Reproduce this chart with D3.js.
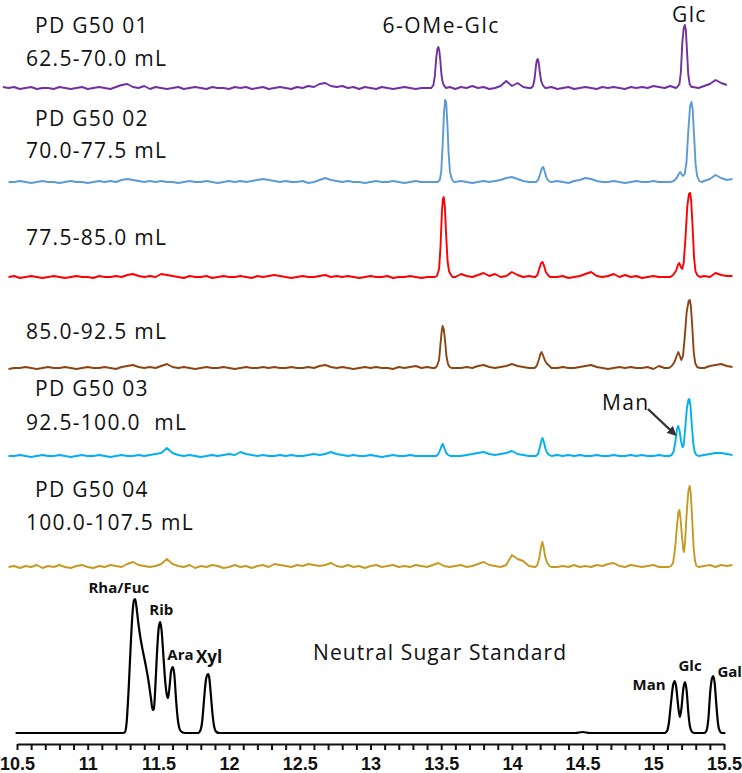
<!DOCTYPE html>
<html><head><meta charset="utf-8">
<script src="https://cdn.jsdelivr.net/npm/d3@7"></script>
<style>
html,body{margin:0;padding:0;background:#fff;}
svg{display:block;}
.lab{font-family:"Open Sans",sans-serif;font-size:21px;letter-spacing:1.3px;fill:#111;white-space:pre;}
.std{font-family:"Open Sans",sans-serif;font-weight:700;font-size:15px;fill:#111;}
.tick text{font-family:"Liberation Sans Narrow","Liberation Sans",sans-serif;font-weight:700;font-size:18px;fill:#111;}
</style></head>
<body>
<svg id="c" width="742" height="773"></svg>
<script>
// ---------- DATA ----------
// x axis tick labels (retention time, min)
const majorTicks = [10.5, 11, 11.5, 12, 12.5, 13, 13.5, 14, 14.5, 15, 15.5];
const tickLabels = ["10.5","11","11.5","12","12.5","13","13.5","14","14.5","15","15.5"];

// trace names / fraction labels
const traceNames = ["PD G50 01","PD G50 02","","","PD G50 03","PD G50 04","Neutral Sugar Standard"];
const fractionLabels = ["62.5-70.0 mL","70.0-77.5 mL","77.5-85.0 mL","85.0-92.5 mL","92.5-100.0  mL","100.0-107.5 mL",""];
const traceColors = ["#7030A0","#5B9BD5","#FF0000","#8B4513","#00B0F0","#C49A22","#000000"];
const traceOffsets = [656, 562, 467, 376, 288, 177, 11];
const noiseStart = [10.40, 10.44, 10.44, 10.44, 10.44, 10.44];
const noiseStep = 0.04;

// baseline noise (sampled every 0.04 min)
const noise01 = [1,0,1,-1,0,1,-1,0,0,-1, 1,0,-1,0,1,-1,0,1,0,-1, 1,3,4,1,0,2,-1,1,0,-1, 0,1,-1,0,1,0,-1,1,0,0,
  -1,1,0,1,-1,0,1,-1,0,1, 0,-1,1,0,2,1,4,5,2,1, 2,0,1,-1,1,0,-1,1,0,-1, 0,1,0,-1,0,0,0,0,0,1,
  -1,1,0,2,0,1,-1,0,2,7, 2,5,1,0,0,0,0,1,-1,0, 1,-1,0,1,0,-1,1,0,1,0, -1,1,0,1,0,2,1,0,2,0, 0,0,1,0,2,4,8,5,3];
const noise02 = [0,0,1,0,-1,0,1,0,0,-1, 0,1,0,0,-1,0,1,0,1,0, 2,3,2,1,0,1,0,1,0,0, -1,0,1,0,0,1,0,-1,0,1,
  0,1,0,1,2,3,2,1,0,1, 0,0,1,-1,0,2,4,2,1,0, 1,0,0,-1,0,1,0,0,1,0, -1,0,1,0,0,0,0,0,0,0,
  1,0,-1,0,1,0,1,2,4,5, 3,1,0,0,0,0,0,1,0,-1, 1,2,4,3,1,0,0,1,0,-1, 0,1,0,0,1,0,0,0,0,0, 0,0,0,1,3,7,4,2,3];
const noise03 = [0,1,-1,0,1,0,-1,0,1,0, -1,0,1,0,0,-1,1,0,0,1, 0,2,3,1,0,1,0,3,2,1, 0,-1,1,0,0,1,-1,0,1,0,
  0,1,0,-1,1,0,1,2,1,0, -1,0,1,0,0,1,2,0,1,0, 1,0,-1,0,1,0,0,1,-1,0, 0,1,0,-1,0,0,0,0,0,0,
  3,1,0,2,4,1,3,0,1,5, 2,0,1,0,0,0,0,0,1,-1, 0,1,3,5,1,0,1,3,0,2, 0,1,-1,0,1,0,0,0,0,0, 0,0,0,1,0,4,2,1,1];
const noise04 = [-1,0,0,1,0,-1,0,1,0,0, 1,0,-1,0,1,0,0,1,0,-1, 1,2,3,1,0,1,0,2,4,1, 0,1,0,-1,0,1,0,0,1,0,
  -1,0,1,0,0,1,0,1,0,0, 1,0,0,1,0,2,3,1,0,1, 0,-1,0,1,0,1,0,0,-1,1, 0,1,2,0,1,0,0,0,0,0,
  0,1,0,2,3,1,0,1,2,4, 2,1,0,0,0,0,0,0,1,0, 0,1,2,3,1,0,-1,0,1,0, 1,0,0,1,-1,2,0,0,0,0, 0,0,0,0,2,3,4,2,1];
const noise05 = [0,0,1,0,-1,0,1,0,0,1, 0,-1,0,1,0,0,1,0,-1,0, 1,0,0,1,0,1,2,3,8,3, 1,0,1,0,-1,0,1,0,1,2,
  1,4,2,1,0,1,0,0,1,0, 1,0,0,1,2,1,2,4,2,1, 0,1,0,0,1,0,-1,0,1,0, 0,1,0,0,0,0,0,0,0,0,
  0,1,2,3,4,2,1,2,3,5, 2,1,0,0,0,0,0,1,0,1, 0,1,0,0,1,0,0,1,0,0, 1,0,1,0,0,1,0,0,0,0, 0,0,0,1,2,3,3,2,1];
const noise06 = [0,1,-1,1,0,2,-1,1,0,2, 0,-1,1,2,0,-1,1,0,2,1, 0,3,5,2,1,0,1,3,8,3, 1,0,2,-1,1,0,2,1,-1,0,
  2,0,1,-1,1,2,0,3,2,1, 0,2,1,3,2,1,2,4,1,0, 2,0,1,-1,1,2,0,1,2,0, 1,0,2,1,0,2,4,1,0,1,
  2,0,1,3,5,2,1,0,2,12, 8,6,1,0,0,0,0,0,1,0, 2,0,1,0,2,1,3,4,1,0, 2,1,0,1,2,0,0,0,0,0, 0,0,0,1,2,0,2,1,2];

// peaks: [time, height above baseline]
const peaks01 = [
  [[13.43,0],[13.445,3],[13.455,12],[13.465,30],[13.473,39],[13.48,41],[13.487,37],[13.494,27],[13.502,13],[13.512,5],[13.522,2],[13.535,0]],
  [[14.135,0],[14.15,2],[14.16,9],[14.17,22],[14.177,28],[14.183,29],[14.19,25],[14.198,15],[14.207,7],[14.218,3],[14.235,0]],
  [[15.17,1],[15.185,4],[15.195,16],[15.205,45],[15.215,60],[15.223,63],[15.23,58],[15.238,38],[15.247,14],[15.257,4],[15.27,1]]
];
const peaks02 = [
  [[13.475,0],[13.49,2],[13.5,10],[13.51,36],[13.52,70],[13.528,82],[13.535,80],[13.543,60],[13.552,30],[13.562,10],[13.575,3],[13.59,0]],
  [[14.17,0],[14.185,2],[14.2,8],[14.212,14],[14.222,15],[14.233,10],[14.245,4],[14.26,1],[14.275,0]],
  [[15.12,0],[15.145,1],[15.165,4],[15.18,8],[15.19,10],[15.2,8],[15.21,6],[15.222,8],[15.235,20],[15.248,52],[15.26,76],[15.27,80],[15.279,72],[15.289,45],[15.299,18],[15.31,6],[15.325,1],[15.34,0]]
];
const peaks03 = [
  [[13.455,0],[13.47,1],[13.485,8],[13.495,30],[13.505,65],[13.512,78],[13.518,80],[13.526,70],[13.535,42],[13.545,16],[13.555,6],[13.565,3],[13.58,0]],
  [[14.165,0],[14.18,2],[14.195,9],[14.207,14],[14.217,15],[14.228,11],[14.24,5],[14.255,2],[14.27,0]],
  [[15.12,0],[15.14,2],[15.16,6],[15.174,12],[15.184,14],[15.194,10],[15.204,8],[15.215,14],[15.228,40],[15.24,70],[15.252,83],[15.26,84],[15.268,76],[15.278,50],[15.288,20],[15.298,6],[15.31,2],[15.33,0]]
];
const peaks04 = [
  [[13.455,0],[13.47,2],[13.485,8],[13.495,24],[13.503,36],[13.51,42],[13.518,39],[13.527,28],[13.537,12],[13.548,4],[13.56,1],[13.575,0]],
  [[14.16,0],[14.175,2],[14.19,8],[14.202,14],[14.21,16],[14.222,12],[14.235,7],[14.25,4],[14.265,2],[14.28,0]],
  [[15.11,0],[15.13,2],[15.15,6],[15.165,12],[15.177,16],[15.188,12],[15.198,8],[15.21,12],[15.223,32],[15.236,56],[15.25,67],[15.258,68],[15.266,62],[15.276,40],[15.286,16],[15.296,5],[15.31,1],[15.33,0]]
];
const peaks05 = [
  [[13.465,0],[13.48,2],[13.495,7],[13.505,11],[13.512,12],[13.522,8],[13.535,3],[13.55,1],[13.565,0]],
  [[14.17,0],[14.185,2],[14.198,9],[14.21,16],[14.217,18],[14.226,14],[14.238,7],[14.25,3],[14.265,1],[14.28,0]],
  [[15.11,0],[15.13,1],[15.145,5],[15.158,16],[15.168,27],[15.176,30],[15.185,26],[15.196,15],[15.206,9],[15.214,10],[15.225,26],[15.237,47],[15.248,56],[15.255,57],[15.263,50],[15.273,30],[15.283,12],[15.293,4],[15.305,1],[15.32,0]]
];
const peaks06 = [
  [[14.165,0],[14.18,2],[14.195,10],[14.207,21],[14.215,25],[14.224,20],[14.236,10],[14.25,4],[14.265,1],[14.28,0]],
  [[15.11,0],[15.125,1],[15.14,4],[15.155,20],[15.168,42],[15.178,55],[15.185,57],[15.193,48],[15.203,30],[15.212,17],[15.218,15],[15.226,28],[15.237,56],[15.248,76],[15.257,81],[15.265,74],[15.275,48],[15.285,20],[15.295,6],[15.305,1],[15.32,0]]
];
// neutral sugar standard (smooth trace)
const standard = [[10.49,0],[11.25,0],[11.264,1],[11.275,10],[11.29,45],[11.305,90],[11.318,122],[11.328,133],[11.336,134],
  [11.345,126],[11.358,110],[11.372,96],[11.39,82],[11.41,68],[11.43,52],[11.447,35],[11.46,23],[11.468,24],[11.478,45],
  [11.49,80],[11.503,106],[11.513,111],[11.523,102],[11.535,78],[11.548,52],[11.56,38],[11.568,35],[11.578,45],[11.59,62],
  [11.602,66],[11.613,58],[11.625,33],[11.637,14],[11.65,4],[11.665,1],[11.69,0],[11.78,0],[11.795,2],[11.81,12],[11.822,32],
  [11.835,52],[11.845,58],[11.852,59],[11.86,55],[11.87,40],[11.882,20],[11.895,6],[11.91,1],[11.93,0],[14.45,0],[14.5,1],
  [14.55,0],[15.08,0],[15.097,2],[15.11,10],[15.125,30],[15.14,48],[15.152,52],[15.162,46],[15.175,28],[15.188,16],[15.2,26],
  [15.212,44],[15.224,51],[15.236,42],[15.248,20],[15.26,6],[15.275,1],[15.29,0],[15.36,0],[15.375,2],[15.39,15],[15.402,40],
  [15.414,54],[15.424,57],[15.434,50],[15.446,28],[15.458,9],[15.47,2],[15.485,0],[15.51,0]];

// standard peak labels: [label, time, height-above-baseline of label baseline, font size]
const stdLabels = [["Rha/Fuc",11.22,140,15],["Rib",11.52,118,15],["Ara",11.656,73,15],["Xyl",11.858,70,17],
  ["Man",14.97,43,15],["Glc",15.26,62,15],["Gal",15.54,56,15]];

// ---------- DRAW ----------
const W = 742, H = 773;
const svg = d3.select("#c");
svg.append("rect").attr("width",W).attr("height",H).attr("fill","#fff");

const x = d3.scaleLinear().domain([10.5, 15.5]).range([17, 724]);
const y = d3.scaleLinear().domain([0, 740]).range([744, 4]);

function buildSeries(start, step, noise, peaks) {
  const pts = noise.map((v, i) => [start + i * step, v]);
  const kept = pts.filter(p => !peaks.some(pk => p[0] >= pk[0][0] && p[0] <= pk[pk.length - 1][0]));
  return kept.concat(...peaks).sort((a, b) => a[0] - b[0]);
}
const noises = [noise01, noise02, noise03, noise04, noise05, noise06];
const peakSets = [peaks01, peaks02, peaks03, peaks04, peaks05, peaks06];
const series = noises.map((n, i) => buildSeries(noiseStart[i], noiseStep, n, peakSets[i]));
series.push(standard);

series.forEach((s, i) => {
  const off = traceOffsets[i];
  const line = d3.line().x(d => x(d[0])).y(d => y(off + d[1]))
    .curve(i === 6 ? d3.curveMonotoneX : d3.curveLinear);
  svg.append("path").datum(s).attr("d", line).attr("fill", "none")
    .attr("stroke", traceColors[i]).attr("stroke-width", i === 6 ? 2.2 : 1.9)
    .attr("stroke-linejoin", "round");
});

// axis
const minorTicks = d3.range(105, 156).map(d => d / 10);
const labelOf = new Map(majorTicks.map((t, i) => [Math.round(t * 10), tickLabels[i]]));
const axis = d3.axisBottom(x).tickValues(minorTicks).tickSize(6).tickSizeOuter(0)
  .tickFormat(d => labelOf.get(Math.round(d * 10)) || "");
const gx = svg.append("g").attr("transform", `translate(0,${y(0)})`).call(axis);
gx.select(".domain").attr("stroke", "#111").attr("stroke-width", 2.2);
gx.selectAll(".tick line").attr("stroke", "#111").attr("stroke-width", 2);
gx.selectAll(".tick text").attr("y", 13).attr("dy", "0.71em");

// trace labels
const nameY = [33, 126, null, null, 396, 497];
const fracY = [66, 158, 245, 339, 430, 530];
traceNames.slice(0, 6).forEach((n, i) => {
  if (n) svg.append("text").attr("class", "lab").attr("x", 35).attr("y", nameY[i]).text(n);
  svg.append("text").attr("class", "lab").attr("x", 26).attr("y", fracY[i]).text(fractionLabels[i]);
});
svg.append("text").attr("class", "lab").attr("x", 313).attr("y", 660)
  .style("letter-spacing", "1.1px").text(traceNames[6]);

// peak annotations on sample traces
svg.append("text").attr("class", "lab").attr("x", x(13.5)).attr("y", 33)
  .attr("text-anchor", "middle").style("letter-spacing", "1.6px").text("6-OMe-Glc");
svg.append("text").attr("class", "lab").attr("x", x(15.255)).attr("y", 22)
  .attr("text-anchor", "middle").text("Glc");
svg.append("text").attr("class", "lab").attr("x", 602).attr("y", 410).text("Man");

// arrow to Man shoulder
svg.append("defs").append("marker").attr("id", "ah").attr("viewBox", "0 0 10 10")
  .attr("refX", 7).attr("refY", 5).attr("markerWidth", 4).attr("markerHeight", 4).attr("orient", "auto")
  .append("path").attr("d", "M0,0L10,5L0,10z").attr("fill", "#333");
svg.append("line").attr("x1", x(14.962)).attr("y1", y(traceOffsets[4] + 47))
  .attr("x2", x(15.15)).attr("y2", y(traceOffsets[4] + 22))
  .attr("stroke", "#333").attr("stroke-width", 2.4).attr("marker-end", "url(#ah)");

// standard labels
stdLabels.forEach(([t, tm, h, fs]) => {
  svg.append("text").attr("class", "std").attr("x", x(tm)).attr("y", y(traceOffsets[6] + h))
    .attr("text-anchor", "middle").style("font-size", fs + "px").text(t);
});
</script>
</body></html>
